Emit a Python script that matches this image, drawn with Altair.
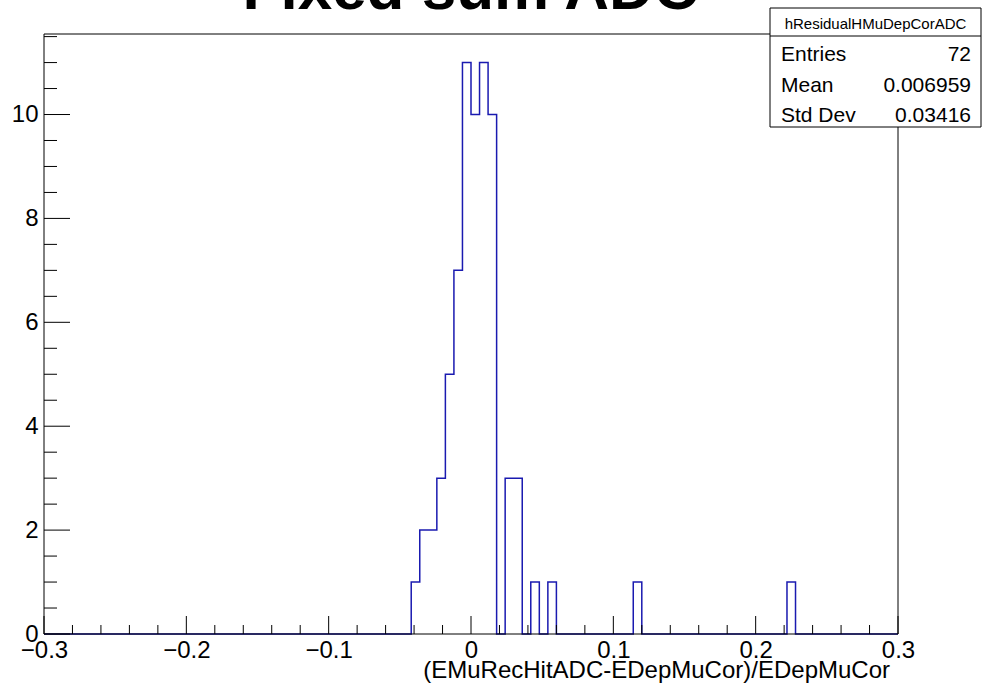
import altair as alt
import numpy as np
import pandas as pd

# Histogram content: lower edge of each filled bin and its count (bin width 0.006)
bin_low = [-0.042, -0.036, -0.030, -0.024, -0.018, -0.012, -0.006, 0.000,
           0.006, 0.012, 0.024, 0.030, 0.042, 0.054, 0.114, 0.222]
counts = [1, 2, 2, 3, 5, 7, 11, 10, 11, 10, 3, 3, 1, 1, 1, 1]

x_min, x_max, n_bins = -0.3, 0.3, 100
y_max = 11.55

# Axis tick values
x_major = [-0.3, -0.2, -0.1, 0.0, 0.1, 0.2, 0.3]
x_minor = [round(v, 3) for v in np.arange(-0.28, 0.3, 0.02) if abs(round(v * 10) - v * 10) > 1e-6]
y_major = [0, 2, 4, 6, 8, 10]
y_minor = [v / 2 for v in range(1, 24) if v % 4 != 0]

title_text = "Fixed sum ADC"
x_title = "(EMuRecHitADC-EDepMuCor)/EDepMuCor"
stats_name = "hResidualHMuDepCorADC"
stats_labels = ["Entries", "Mean", "Std Dev"]
stats_values = ["72", "0.006959", "0.03416"]

W, H = 854, 600
FONT = "Liberation Sans"
BLUE = "#1a1ab0"

# Full bin table -> step outline
width = (x_max - x_min) / n_bins
full = [0] * n_bins
for lo, c in zip(bin_low, counts):
    full[int(round((lo - x_min) / width))] = c
edges = np.round(x_min + width * np.arange(n_bins + 1), 6)
hist_df = pd.DataFrame({"x": edges, "n": full + [0]})

xs = alt.Scale(domain=[x_min, x_max], nice=False, zero=False)
ys = alt.Scale(domain=[0, y_max], nice=False, zero=False)

x_axis = alt.Axis(
    values=x_major, tickSize=0, domain=False, grid=False,
    labelFont=FONT, labelFontSize=24, labelColor="black", labelPadding=4,
    labelFlush=False, labelOverlap=False,
    labelExpr="datum.value == 0 ? '0' : format(datum.value, '.1f')")
y_axis = alt.Axis(
    values=y_major, tickSize=0, domain=False, grid=False,
    labelFont=FONT, labelFontSize=24, labelColor="black", labelPadding=6,
    labelFlush=False, labelOverlap=False, format="d")

hist = alt.Chart(hist_df).mark_line(
    interpolate="step-after", color=BLUE, strokeWidth=1.5
).encode(
    x=alt.X("x:Q", scale=xs, title=None, axis=x_axis),
    y=alt.Y("n:Q", scale=ys, title=None, axis=y_axis),
)

def xticks(vals, length):
    return alt.Chart(pd.DataFrame({"x": vals})).mark_rule(color="black", strokeWidth=1).encode(
        x=alt.X("x:Q", scale=xs, axis=x_axis, title=None),
        y=alt.value(H), y2=alt.value(H - length))

def yticks(vals, length):
    return alt.Chart(pd.DataFrame({"n": vals})).mark_rule(color="black", strokeWidth=1).encode(
        y=alt.Y("n:Q", scale=ys, axis=y_axis, title=None),
        x=alt.value(0), x2=alt.value(length))

one = alt.Data(values=[{}])

def label(text, x, y, size, align="left", weight="normal"):
    return alt.Chart(one).mark_text(
        text=text, font=FONT, fontSize=size, fontWeight=weight,
        align=align, baseline="alphabetic", color="black"
    ).encode(x=alt.value(x), y=alt.value(y))

frame = alt.Chart(one).mark_rect(fill=None, stroke="black", strokeWidth=1).encode(
    x=alt.value(0), x2=alt.value(W), y=alt.value(0), y2=alt.value(H))

title = label(title_text, 426.5, -25, 62, align="center", weight="bold")
axis_title = label(x_title, 846, 644, 24, align="right")

# Statistics box
box = alt.Chart(one).mark_rect(fill="white", stroke="black", strokeWidth=1).encode(
    x=alt.value(726), x2=alt.value(937), y=alt.value(-26), y2=alt.value(93))
divider = alt.Chart(one).mark_rule(color="black", strokeWidth=1).encode(
    x=alt.value(726), x2=alt.value(937), y=alt.value(2))
header = label(stats_name, 831.5, -5.5, 15, align="center")

row_base = [26.5, 57.5, 88]
stat_layers = []
for name, val, yb in zip(stats_labels, stats_values, row_base):
    stat_layers.append(label(name, 737, yb, 21))
    stat_layers.append(label(val, 927, yb, 21, align="right"))

chart = alt.layer(
    hist,
    xticks(x_major, 18), xticks(x_minor, 9),
    yticks(y_major, 26), yticks(y_minor, 13),
    frame, title, axis_title,
    box, divider, header, *stat_layers,
).properties(
    width=W, height=H,
    padding={"left": 44, "top": 34, "right": 84, "bottom": 53},
    autosize=alt.AutoSizeParams(type="none"),
    background="white",
).configure_view(stroke=None)

chart.save("out.html", embed_options={"renderer": "svg", "actions": False})
